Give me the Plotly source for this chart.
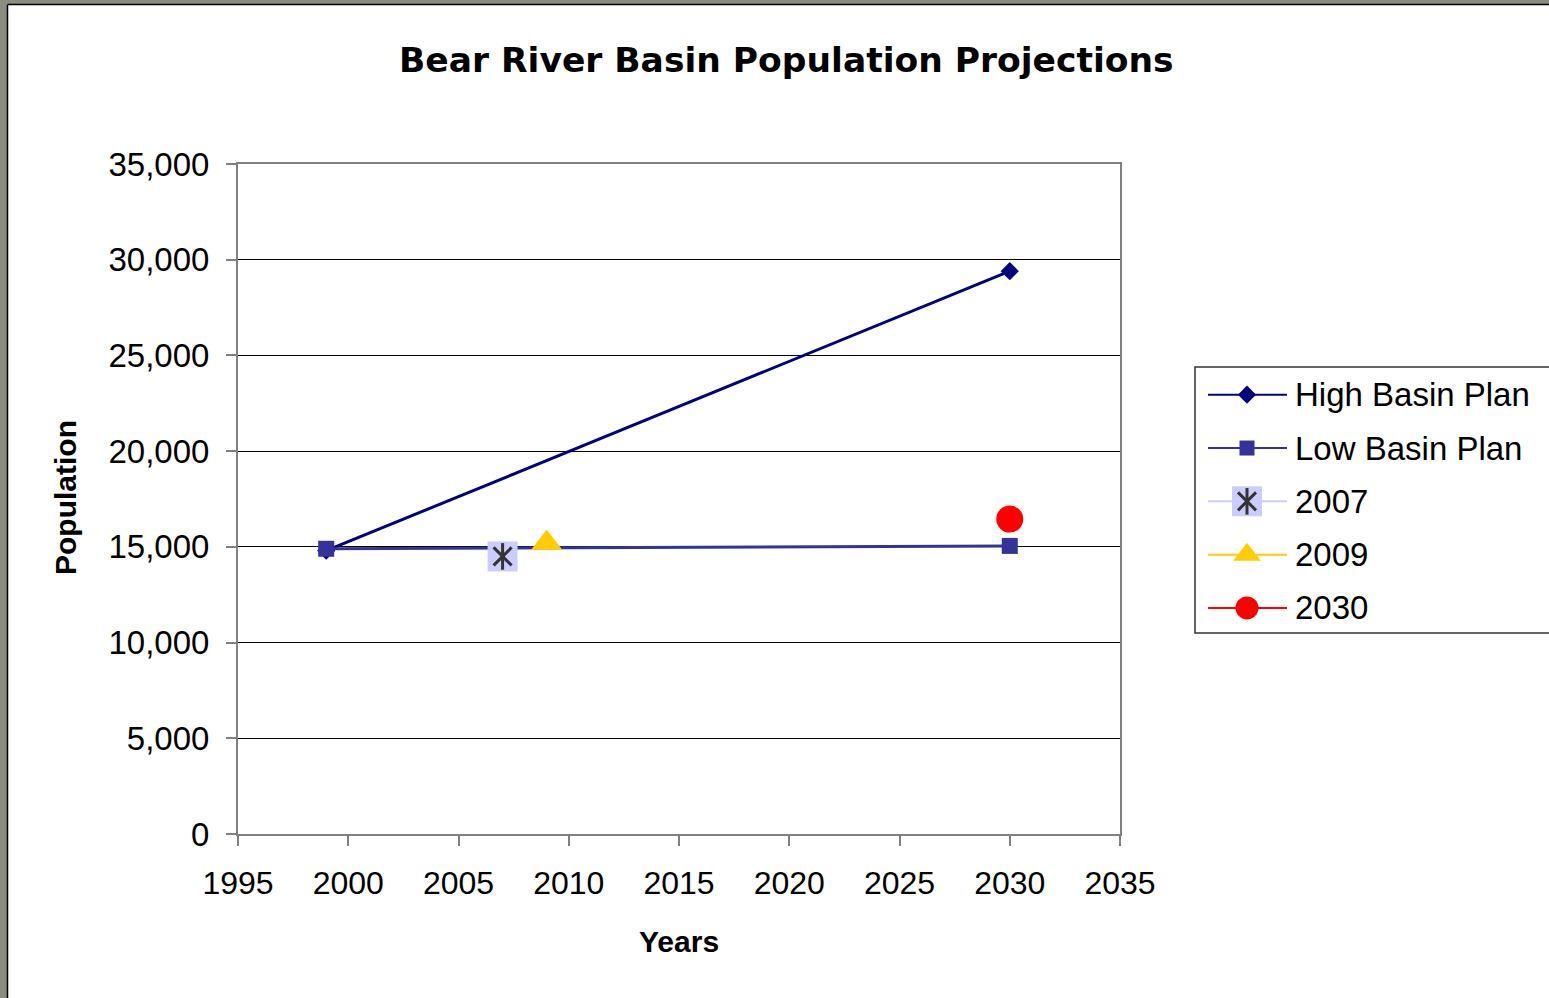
import plotly.graph_objects as go

# ---- data -------------------------------------------------------------
plan_years = [1999, 2030]
high_basin_plan = [14800, 29400]
low_basin_plan = [14900, 15050]

est_2007_year = [2007]
est_2007_pop = [14500]
est_2009_year = [2009]
est_2009_pop = [15200]
proj_2030_year = [2030]
proj_2030_pop = [16450]

x_ticks = [1995, 2000, 2005, 2010, 2015, 2020, 2025, 2030, 2035]
y_ticks = [0, 5000, 10000, 15000, 20000, 25000, 30000, 35000]

legend_names = ["High Basin Plan", "Low Basin Plan", "2007", "2009", "2030"]

# ---- page geometry (pixels) ------------------------------------------
W, H = 1549, 998
PLOT_L, PLOT_R, PLOT_T, PLOT_B = 238, 1120, 164, 834
PAPER_W = W - PLOT_L
PLOT_H = PLOT_B - PLOT_T


def px_x(p):
    return (p - PLOT_L) / PAPER_W


def px_y(p):
    return (PLOT_B - p) / PLOT_H


FONT = "Liberation Sans, Arial, sans-serif"
TITLE_FONT = "DejaVu Sans, Liberation Sans, sans-serif"
NAVY = "#000080"
BLUE = "#333399"
LAVENDER = "#ccccff"
GOLD = "#ffcc00"
RED = "#ff0000"
STAR = "#333333"

# the 2007 marker: a lavender square with a six-armed star on top
STAR_PARTS = [
    dict(symbol="line-ns-open", size=19, color=STAR, line=dict(color=STAR, width=3)),
    dict(symbol="x-thin-open", size=18, color=STAR, line=dict(color=STAR, width=3)),
]

fig = go.Figure()

fig.add_trace(go.Scatter(
    x=plan_years, y=high_basin_plan, mode="lines+markers", name=legend_names[0],
    line=dict(color=NAVY, width=3),
    marker=dict(symbol="diamond", size=14, color=NAVY),
))
fig.add_trace(go.Scatter(
    x=plan_years, y=low_basin_plan, mode="lines+markers", name=legend_names[1],
    line=dict(color=BLUE, width=3),
    marker=dict(symbol="square", size=16, color=BLUE),
))
fig.add_trace(go.Scatter(
    x=est_2007_year, y=est_2007_pop, mode="markers", name=legend_names[2],
    marker=dict(symbol="square", size=30, color=LAVENDER),
))
for part in STAR_PARTS:
    fig.add_trace(go.Scatter(
        x=est_2007_year, y=est_2007_pop, mode="markers", name=legend_names[2],
        marker=part, hoverinfo="skip",
    ))
fig.add_trace(go.Scatter(
    x=est_2009_year, y=est_2009_pop, mode="markers", name=legend_names[3],
    marker=dict(symbol="triangle-up", size=27, color=GOLD),
))
fig.add_trace(go.Scatter(
    x=proj_2030_year, y=proj_2030_pop, mode="markers", name=legend_names[4],
    marker=dict(symbol="circle", size=27, color=RED),
))

# ---- legend drawn on its own small axes --------------------------------
LEG_L, LEG_T, LEG_B = 1195, 367, 633
row_y = list(range(len(legend_names)))
leg_x_line = [13, 92]
leg_x_mark = 52
leg_x_text = 98
leg_styles = [
    dict(line=NAVY, marker=dict(symbol="diamond", size=14, color=NAVY)),
    dict(line=BLUE, marker=dict(symbol="square", size=15, color=BLUE)),
    dict(line=LAVENDER, marker=dict(symbol="square", size=30, color=LAVENDER)),
    dict(line=GOLD, marker=dict(symbol="triangle-up", size=24, color=GOLD)),
    dict(line=RED, marker=dict(symbol="circle", size=23, color=RED)),
]
for i, (name, st) in enumerate(zip(legend_names, leg_styles)):
    fig.add_trace(go.Scatter(
        x=leg_x_line, y=[row_y[i]] * 2, mode="lines", xaxis="x2", yaxis="y2",
        line=dict(color=st["line"], width=2), showlegend=False, hoverinfo="skip",
    ))
    fig.add_trace(go.Scatter(
        x=[leg_x_mark], y=[row_y[i]], mode="markers", xaxis="x2", yaxis="y2",
        marker=st["marker"], showlegend=False, hoverinfo="skip",
    ))
    if name == "2007":
        for part in STAR_PARTS:
            fig.add_trace(go.Scatter(
                x=[leg_x_mark], y=[row_y[i]], mode="markers", xaxis="x2", yaxis="y2",
                marker=part, showlegend=False, hoverinfo="skip",
            ))
    fig.add_annotation(
        x=leg_x_text, y=row_y[i], xref="x2", yref="y2", text=name,
        showarrow=False, xanchor="left", yanchor="middle",
        font=dict(family=FONT, size=33, color="black"),
    )

fig.add_shape(type="rect", xref="paper", yref="paper",
              x0=px_x(LEG_L), x1=px_x(W + 20), y0=px_y(LEG_B), y1=px_y(LEG_T),
              line=dict(color="#333333", width=1.5), fillcolor="rgba(0,0,0,0)",
              layer="below")

# ---- outer frame -------------------------------------------------------
FRAME = "#8a8d80"
fig.add_shape(type="rect", xref="paper", yref="paper",
              x0=px_x(0), x1=px_x(7), y0=px_y(H), y1=px_y(0),
              line=dict(width=0), fillcolor=FRAME)
fig.add_shape(type="rect", xref="paper", yref="paper",
              x0=px_x(0), x1=px_x(W), y0=px_y(4), y1=px_y(0),
              line=dict(width=0), fillcolor=FRAME)
fig.add_shape(type="line", xref="paper", yref="paper",
              x0=px_x(7.5), x1=px_x(7.5), y0=px_y(H), y1=px_y(4.5),
              line=dict(color="black", width=1.5))
fig.add_shape(type="line", xref="paper", yref="paper",
              x0=px_x(7.5), x1=px_x(W), y0=px_y(4.5), y1=px_y(4.5),
              line=dict(color="black", width=1.5))

# ---- titles ------------------------------------------------------------
fig.add_annotation(
    x=px_x(786), y=px_y(60), xref="paper", yref="paper",
    text="<b>Bear River Basin Population Projections</b>", showarrow=False,
    xanchor="center", yanchor="middle",
    font=dict(family=TITLE_FONT, size=34.5, color="black"),
)
fig.add_annotation(
    x=px_x(65), y=px_y(498), xref="paper", yref="paper",
    text="<b>Population</b>", showarrow=False, textangle=-90,
    xanchor="center", yanchor="middle",
    font=dict(family=FONT, size=30, color="black"),
)
fig.add_annotation(
    x=px_x(679), y=px_y(941), xref="paper", yref="paper",
    text="<b>Years</b>", showarrow=False,
    xanchor="center", yanchor="middle",
    font=dict(family=FONT, size=30, color="black"),
)

fig.update_layout(
    width=W, height=H,
    margin=dict(l=PLOT_L, r=0, t=PLOT_T, b=H - PLOT_B, autoexpand=False),
    paper_bgcolor="white", plot_bgcolor="white",
    showlegend=False,
    font=dict(family=FONT, size=32, color="black"),
    xaxis=dict(
        domain=[0, (PLOT_R - PLOT_L) / PAPER_W],
        range=[1995, 2035], tickvals=x_ticks, ticktext=[str(v) for v in x_ticks],
        showgrid=False, zeroline=False,
        showline=True, linecolor="#808080", linewidth=2, mirror=True,
        ticks="outside", ticklen=10, tickwidth=2, tickcolor="#808080",
        ticklabelstandoff=10,
        tickfont=dict(family=FONT, size=32, color="black"),
    ),
    yaxis=dict(
        range=[0, 35000], tickvals=y_ticks,
        ticktext=[f"{v:,}" for v in y_ticks],
        showgrid=True, gridcolor="black", gridwidth=1, zeroline=False,
        showline=True, linecolor="#808080", linewidth=2, mirror=True,
        ticks="outside", ticklen=10, tickwidth=2, tickcolor="#808080",
        ticklabelstandoff=10,
        tickfont=dict(family=FONT, size=33, color="black"),
    ),
    xaxis2=dict(domain=[px_x(LEG_L), 1], range=[0, W - LEG_L], anchor="y2",
                visible=False, fixedrange=True),
    yaxis2=dict(domain=[px_y(LEG_B), px_y(LEG_T)], range=[4.47, -0.52], anchor="x2",
                visible=False, fixedrange=True),
)

fig.write_html("out.html")
